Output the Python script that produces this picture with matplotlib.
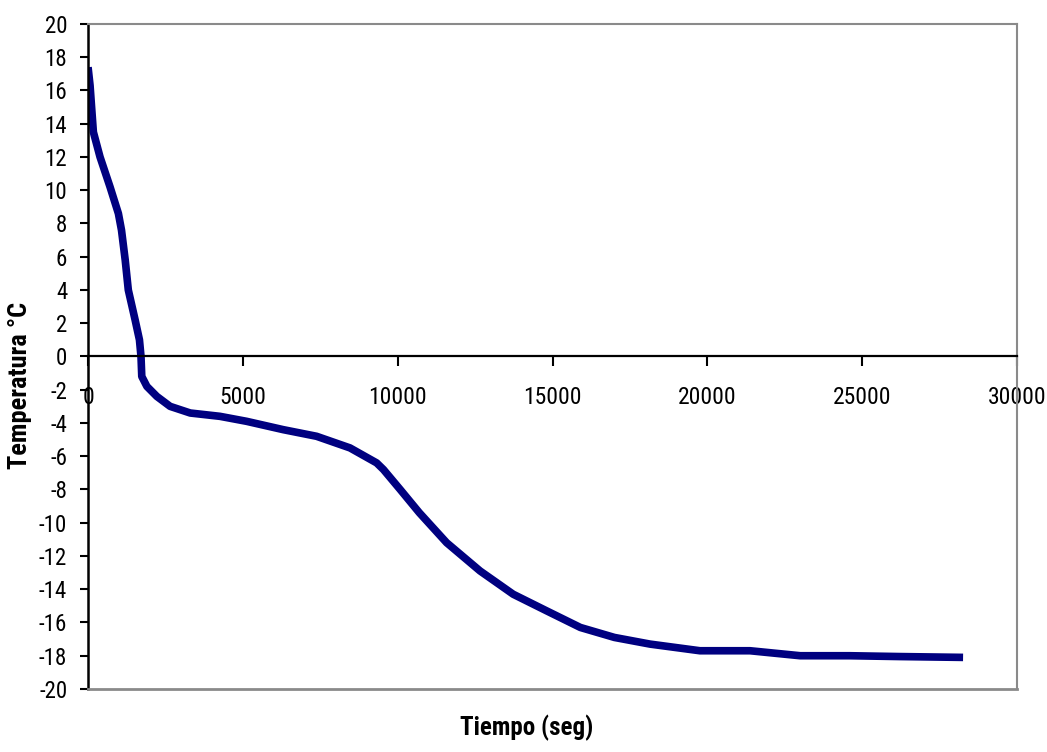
import matplotlib
matplotlib.use("Agg")
import matplotlib.pyplot as plt
from matplotlib import font_manager
import numpy as np

# cooling curve: time in seconds, temperature in degrees C
tiempo = [0, 65, 118, 172, 387, 710, 980, 1080, 1200, 1300, 1520, 1660,
          1710, 1735, 1900, 2220, 2650, 3300, 4260, 5120, 6300, 7380, 8460,
          9320, 9540, 10080, 10700, 11580, 12660, 13730, 14810, 15900,
          17000, 18150, 19760, 21380, 23000, 24600, 26220, 28260]
temperatura = [17.4, 16.3, 14.9, 13.5, 12.0, 10.2, 8.6, 7.6, 5.8, 4.0, 2.2,
               1.0, 0.0, -1.2, -1.8, -2.4, -3.0, -3.4, -3.6, -3.9, -4.4,
               -4.8, -5.5, -6.4, -6.8, -8.0, -9.4, -11.2, -12.9, -14.3,
               -15.3, -16.3, -16.9, -17.3, -17.7, -17.7, -18.0, -18.0,
               -18.05, -18.1]

x_ticks = np.arange(0, 30001, 5000)
y_ticks = np.arange(-20, 21, 2)

# prefer a narrow face if one is around
installed = {f.name for f in font_manager.fontManager.ttflist}
narrow = "DejaVu Sans"
for cand in ("Liberation Sans Narrow", "DejaVu Sans Condensed",
             "Roboto Condensed", "Open Sans Condensed"):
    if cand in installed:
        narrow = cand
        break
plt.rcParams["font.family"] = [narrow, "DejaVu Sans"]
plt.rcParams["font.stretch"] = "condensed"

fig = plt.figure(figsize=(10.47, 7.52), dpi=100)
ax = fig.add_axes([0.0841, 0.0838, 0.8872, 0.8843])

ax.plot(tiempo, temperatura, color="#000080", lw=5.5, solid_capstyle="butt",
        solid_joinstyle="round")

# x axis crosses at zero, box frame in grey
ax.spines["bottom"].set_position(("data", 0))
ax.spines["bottom"].set_color("black")
ax.spines["bottom"].set_linewidth(1.6)
ax.spines["left"].set_color("black")
ax.spines["left"].set_linewidth(1.8)
for s in ("top", "right"):
    ax.spines[s].set_color("#8a8a8a")
    ax.spines[s].set_linewidth(1.5)
ax.axhline(-20, color="#8a8a8a", lw=2, clip_on=False, zorder=3)

ax.set_xlim(0, 30000)
ax.set_ylim(-20, 20)
ax.set_xticks(x_ticks)
ax.set_yticks(y_ticks)
ax.set_xticklabels([str(v) for v in x_ticks])
ax.set_yticklabels([str(v) for v in y_ticks])

ax.tick_params(axis="x", direction="out", length=7, width=1.5, pad=14,
               labelsize=17, colors="black")
ax.tick_params(axis="y", direction="out", length=6, width=1.5, pad=9,
               labelsize=16.5, colors="black")

fig.text(0.503, 0.032, "Tiempo (seg)", ha="center", va="center",
         fontsize=18, fontweight="bold")
fig.text(0.019, 0.488, "Temperatura °C", ha="center", va="center",
         rotation=90, fontsize=19, fontweight="bold")

fig.savefig("out.png", dpi=100, facecolor="white")
